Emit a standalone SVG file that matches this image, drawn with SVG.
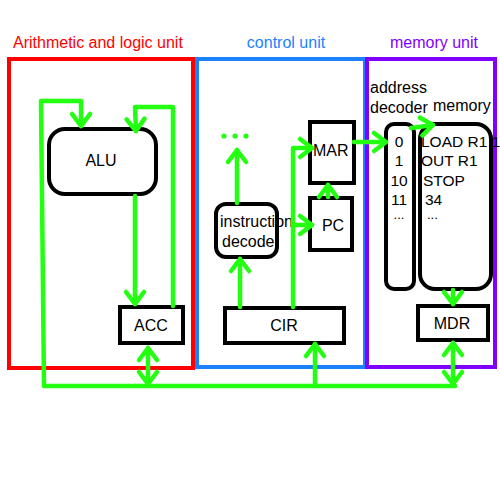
<svg xmlns="http://www.w3.org/2000/svg" width="500" height="500" viewBox="0 0 500 500">
<style>
text{font-family:"Liberation Sans",Arial,sans-serif;font-size:16px;fill:#000}
.title{font-size:16px}
.mem{font-size:15.5px}
.ell{font-size:13px}
.box{fill:#fff;stroke:#000;stroke-width:4}
.unit{fill:none;stroke-width:4}
.wire{fill:none;stroke:#22ff11;stroke-width:4.5;stroke-linecap:round;stroke-linejoin:round}
.dot{fill:#22ff11}
</style>
<defs>
<marker id="arr" markerUnits="userSpaceOnUse" markerWidth="30" markerHeight="30" viewBox="-15 -15 30 30" refX="0" refY="0" orient="auto-start-reverse" overflow="visible">
<path d="M -12 -9 L 0 0 L -12 9" fill="none" stroke="#22ff11" stroke-width="4.5" stroke-linecap="round" stroke-linejoin="round"/>
</marker>
</defs>
<rect width="500" height="500" fill="#fff"/>
<g id="alu-unit">
<rect class="unit" x="9" y="59" width="184" height="309" stroke="#ff0000"/>
<text class="title" x="13" y="48" style="fill:#ff0000">Arithmetic and logic unit</text>
</g>
<g id="control-unit">
<rect class="unit" x="197" y="59" width="168" height="308" stroke="#1a82ff"/>
<text class="title" x="286" y="48" text-anchor="middle" style="fill:#1a82ff">control unit</text>
</g>
<g id="memory-unit">
<rect class="unit" x="367" y="59" width="128" height="308" stroke="#8000ff"/>
<text class="title" x="434" y="48" text-anchor="middle" style="fill:#8000ff">memory unit</text>
</g>
<g id="ALU">
<rect class="box" x="49" y="129" width="107" height="65" rx="16"/>
<text x="101" y="166" text-anchor="middle">ALU</text>
</g>
<g id="ACC">
<rect class="box" x="120" y="307" width="63" height="36"/>
<text x="151" y="331" text-anchor="middle">ACC</text>
</g>
<g id="CIR">
<rect class="box" x="225" y="308" width="119" height="35"/>
<text x="284" y="331" text-anchor="middle">CIR</text>
</g>
<g id="MDR">
<rect class="box" x="418" y="306" width="70" height="34"/>
<text x="452" y="329" text-anchor="middle">MDR</text>
</g>
<g id="MAR">
<rect class="box" x="310" y="122" width="44" height="61"/>
<text x="313" y="156">MAR</text>
</g>
<g id="PC">
<rect class="box" x="310" y="198" width="42" height="52"/>
<text x="333" y="231" text-anchor="middle">PC</text>
</g>
<g id="instruction-decode">
<rect class="box" x="216" y="204" width="61" height="53" rx="10"/>
<text x="220" y="227">instruction</text>
<text x="222" y="247">decode</text>
</g>
<g id="more">
<circle class="dot" cx="224" cy="136" r="2.6"/>
<circle class="dot" cx="235" cy="136" r="2.6"/>
<circle class="dot" cx="246" cy="136" r="2.6"/>
</g>
<g id="address-decoder">
<text x="370" y="93">address</text>
<text x="370" y="113">decoder</text>
<rect class="box" x="386" y="124" width="28" height="165" rx="8"/>
<text class="mem" x="399" y="147" text-anchor="middle">0</text>
<text class="mem" x="399" y="166" text-anchor="middle">1</text>
<text class="mem" x="399" y="186" text-anchor="middle">10</text>
<text class="mem" x="399" y="205" text-anchor="middle">11</text>
<text class="ell" x="399" y="219" text-anchor="middle">...</text>
</g>
<g id="memory">
<text x="433" y="111">memory</text>
<rect class="box" x="420" y="124" width="71" height="165" rx="15"/>
<text class="mem" x="421" y="147">LOAD R1 1</text>
<text class="mem" x="421" y="166">OUT R1</text>
<text class="mem" x="423" y="186">STOP</text>
<text class="mem" x="425" y="205">34</text>
<text class="ell" x="427" y="219">...</text>
</g>
<g id="connectors">
<path class="wire" d="M 455 386 L 44 386 L 41 101 L 81 101 L 81 126" marker-end="url(#arr)"/>
<path class="wire" d="M 173 306 L 173 107 L 135 107 L 136 131" marker-end="url(#arr)"/>
<path class="wire" d="M 135 196 L 135 304" marker-end="url(#arr)"/>
<path class="wire" d="M 148 348 L 148 384" marker-start="url(#arr)" marker-end="url(#arr)"/>
<path class="wire" d="M 315 386 L 315 344" marker-end="url(#arr)"/>
<path class="wire" d="M 453 343 L 453 384" marker-start="url(#arr)" marker-end="url(#arr)"/>
<path class="wire" d="M 453 290 L 453 304" marker-end="url(#arr)"/>
<path class="wire" d="M 240 307 L 240 259" marker-end="url(#arr)"/>
<path class="wire" d="M 293 307 L 293 148 L 312 148" marker-end="url(#arr)"/>
<path class="wire" d="M 293 225 L 312 225" marker-end="url(#arr)"/>
<path class="wire" d="M 237 203 L 237 150" marker-end="url(#arr)"/>
<path class="wire" d="M 328 197 L 328 185" marker-end="url(#arr)"/>
<path class="wire" d="M 354 142 L 386 142" marker-end="url(#arr)"/>
<path class="wire" d="M 411 128 L 433 125" marker-end="url(#arr)"/>
</g>
</svg>
